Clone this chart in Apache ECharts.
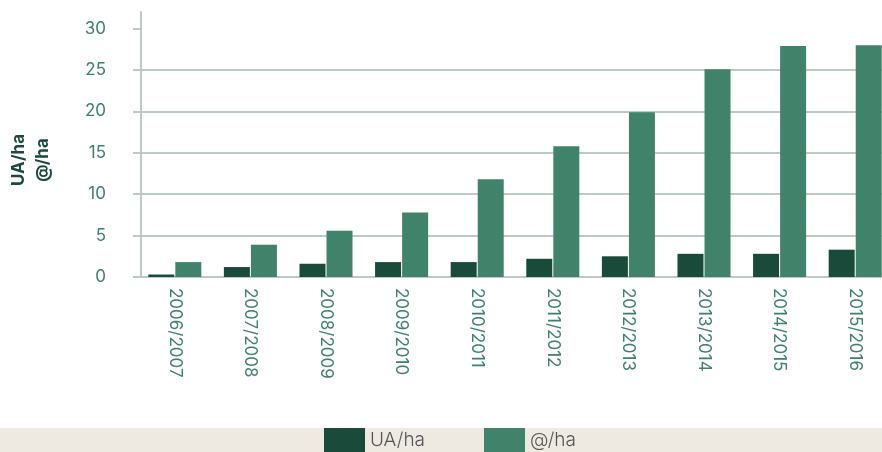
<!DOCTYPE html>
<html>
<head>
<meta charset="utf-8">
<script src="https://cdn.jsdelivr.net/npm/echarts@6/dist/echarts.min.js"></script>
<style>
  html, body { margin: 0; padding: 0; background: #fff; }
  #chart { width: 882px; height: 452px; }
</style>
</head>
<body>
<div id="chart"></div>
<script>
  // dados
  const seasons = ['2006/2007', '2007/2008', '2008/2009', '2009/2010', '2010/2011',
                   '2011/2012', '2012/2013', '2013/2014', '2014/2015', '2015/2016']
  const uaPerHa = [0.3, 1.2, 1.6, 1.8, 1.8, 2.2, 2.5, 2.8, 2.8, 3.3]
  const arrobaPerHa = [1.8, 3.9, 5.6, 7.8, 11.8, 15.8, 19.9, 25.1, 27.9, 28.0]
  const yTicks = [0, 5, 10, 15, 20, 25, 30]

  const font = 'Inter, "Noto Sans", sans-serif'
  const myChart = echarts.init(document.getElementById('chart'))

  const option = {
    animation: false,
    textStyle: { fontFamily: font },
    graphic: [
      {
        type: 'rect',
        left: 0, top: 428,
        shape: { width: 882, height: 24 },
        style: { fill: '#efeae1' },
        z: -1
      },
      // titulo do eixo y
      {
        type: 'text',
        x: 31, y: 160,
        rotation: Math.PI / 2,
        style: {
          text: 'UA/ha\n@/ha',
          fill: '#1a4a3a',
          font: 'bold 17px ' + font,
          lineHeight: 24,
          align: 'center',
          verticalAlign: 'middle'
        }
      }
    ],
    legend: {
      top: 428,
      left: 324,
      padding: 0,
      itemWidth: 41,
      itemHeight: 24,
      itemGap: 59,
      icon: 'rect',
      textStyle: { color: '#555', fontSize: 19, fontFamily: font, fontWeight: 300 },
      data: ['UA/ha', '@/ha']
    },
    grid: { left: 137, right: -11, top: 12, bottom: 175, outerBoundsMode: 'none' },
    xAxis: {
      type: 'category',
      data: seasons,
      axisLine: { show: false },
      axisTick: { show: false },
      axisLabel: {
        rotate: -90,
        color: '#3f826a',
        fontSize: 17,
        margin: 11
      }
    },
    yAxis: {
      type: 'value',
      min: 0,
      max: 32,
      interval: 5,
      offset: -4,
      axisLine: { show: true, lineStyle: { color: '#bccbc1', width: 2 } },
      axisTick: { show: true, length: 8, lineStyle: { color: '#bccbc1', width: 2 }, customValues: yTicks },
      axisLabel: {
        color: '#3f8068',
        fontSize: 17,
        margin: 35,
        customValues: yTicks
      },
      splitLine: { show: true, showMaxLine: false, lineStyle: { color: '#bccbc1', width: 2 } }
    },
    series: [
      {
        name: 'UA/ha',
        type: 'bar',
        data: uaPerHa,
        barWidth: 26,
        barGap: '4%',
        itemStyle: { color: '#1a4a3a' }
      },
      {
        name: '@/ha',
        type: 'bar',
        data: arrobaPerHa,
        barWidth: 26,
        itemStyle: { color: '#41826a' }
      }
    ]
  }

  myChart.setOption(option)
</script>
</body>
</html>
